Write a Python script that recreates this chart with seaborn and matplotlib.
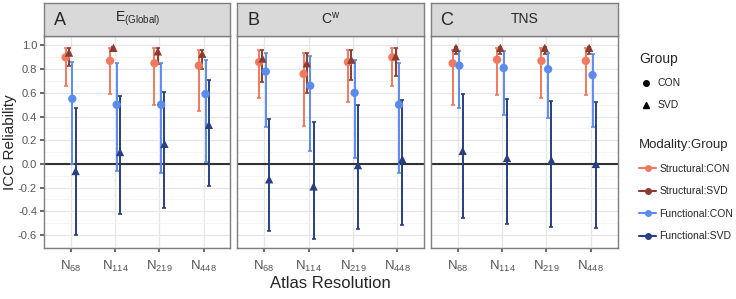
import numpy as np
import pandas as pd
import seaborn as sns
from matplotlib import pyplot as plt
import matplotlib.lines as mlines
from matplotlib.ticker import MultipleLocator

measures = ["A", "B", "C"]
measure_titles = [r"E$_{\mathregular{(Global)}}$", r"C$^{\mathregular{w}}$", "TNS"]
atlases = [r"N$_{\mathregular{68}}$", r"N$_{\mathregular{114}}$", r"N$_{\mathregular{219}}$", r"N$_{\mathregular{448}}$"]
series = ["Structural:CON", "Structural:SVD", "Functional:CON", "Functional:SVD"]

# ICC estimates and 95% CI, one list per panel (A, B, C) x atlas
str_con_est = [[0.90, 0.87, 0.85, 0.83], [0.86, 0.76, 0.86, 0.90], [0.85, 0.88, 0.87, 0.87]]
str_con_low = [[0.66, 0.59, 0.50, 0.45], [0.56, 0.32, 0.52, 0.66], [0.50, 0.58, 0.56, 0.58]]
str_con_high = [[0.98, 0.98, 0.98, 0.96], [0.96, 0.94, 0.96, 0.98], [0.96, 0.98, 0.98, 0.98]]

str_svd_est = [[0.94, 0.98, 0.95, 0.93], [0.89, 0.85, 0.88, 0.91], [0.98, 0.98, 0.98, 0.98]]
str_svd_low = [[0.83, 0.95, 0.84, 0.80], [0.69, 0.60, 0.71, 0.74], [0.93, 0.93, 0.93, 0.93]]
str_svd_high = [[0.98, 0.99, 0.98, 0.96], [0.96, 0.94, 0.96, 0.98], [0.99, 0.99, 0.99, 0.99]]

fun_con_est = [[0.55, 0.50, 0.50, 0.59], [0.78, 0.66, 0.60, 0.50], [0.83, 0.81, 0.80, 0.75]]
fun_con_low = [[0.00, -0.06, -0.08, 0.02], [0.31, 0.11, 0.05, -0.08], [0.47, 0.41, 0.39, 0.31]]
fun_con_high = [[0.86, 0.85, 0.85, 0.88], [0.94, 0.91, 0.88, 0.85], [0.95, 0.95, 0.94, 0.93]]

fun_svd_est = [[-0.06, 0.10, 0.17, 0.33], [-0.13, -0.19, -0.01, 0.04], [0.11, 0.05, 0.03, 0.00]]
fun_svd_low = [[-0.60, -0.42, -0.37, -0.19], [-0.57, -0.63, -0.55, -0.52], [-0.46, -0.51, -0.53, -0.54]]
fun_svd_high = [[0.47, 0.57, 0.61, 0.71], [0.38, 0.35, 0.50, 0.54], [0.59, 0.55, 0.53, 0.52]]

COLORS = {
    "Structural:CON": "#F0795E",
    "Structural:SVD": "#8C3B31",
    "Functional:CON": "#5B8CEB",
    "Functional:SVD": "#283F80",
}
MARKERS = {"CON": "o", "SVD": "^"}

values = {
    "Structural:CON": (str_con_est, str_con_low, str_con_high),
    "Structural:SVD": (str_svd_est, str_svd_low, str_svd_high),
    "Functional:CON": (fun_con_est, fun_con_low, fun_con_high),
    "Functional:SVD": (fun_svd_est, fun_svd_low, fun_svd_high),
}

rows = []
for s_idx, s in enumerate(series):
    est, low, high = values[s]
    for m_idx, m in enumerate(measures):
        for a_idx in range(len(atlases)):
            rows.append({
                "Measure": m,
                "Series": s,
                "Group": s.split(":")[1],
                "atlas": a_idx,
                "xpos": a_idx + (s_idx - 1.5) * 0.075,
                "est": est[m_idx][a_idx],
                "low": low[m_idx][a_idx],
                "high": high[m_idx][a_idx],
            })
df = pd.DataFrame(rows)

sns.set_theme(style="white")
plt.rcParams["font.family"] = ["Liberation Sans", "DejaVu Sans"]
plt.rcParams["mathtext.fontset"] = "custom"
plt.rcParams["mathtext.rm"] = "Liberation Sans"

W, H = 736, 299
fig = plt.figure(figsize=(W / 100, H / 100), dpi=100)

panel_left = [44, 237.5, 431]
panel_w = 186.5
top, bottom = 36, 248
strip_top = 2.5

for i, m in enumerate(measures):
    ax = fig.add_axes([panel_left[i] / W, 1 - bottom / H, panel_w / W, (bottom - top) / H])
    sub = df[df["Measure"] == m]

    ax.set_xlim(-0.6, 3.6)
    ax.set_ylim(-0.71, 1.08)
    ax.yaxis.set_major_locator(MultipleLocator(0.2))
    ax.yaxis.set_minor_locator(MultipleLocator(0.1))
    ax.grid(True, which="major", color="#E6E6E6", lw=0.9)
    ax.grid(True, which="minor", axis="y", color="#F2F2F2", lw=0.6)
    ax.set_axisbelow(True)
    ax.axhline(0, color="#333333", lw=1.5, zorder=1)

    for s in series:
        d = sub[sub["Series"] == s]
        ax.errorbar(
            d["xpos"], d["est"],
            yerr=[d["est"] - d["low"], d["high"] - d["est"]],
            fmt="none", ecolor=COLORS[s], elinewidth=1.4, capsize=1.5, capthick=1.2, zorder=2,
        )
    sns.scatterplot(
        data=sub, x="xpos", y="est", hue="Series", style="Group",
        palette=COLORS, markers=MARKERS, hue_order=series,
        s=36, linewidth=0, legend=False, ax=ax, zorder=3,
    )

    ax.set_xticks(range(len(atlases)))
    ax.set_xticklabels(atlases, fontsize=9.5, color="#555555")
    ax.tick_params(axis="x", length=3, color="#555555", pad=5, bottom=True)
    ax.set_xlabel("")
    ax.set_ylabel("")
    if i == 0:
        ax.set_yticks(np.round(np.arange(-0.6, 1.01, 0.2), 1))
        ax.set_yticklabels([f"{v:.1f}" for v in np.arange(-0.6, 1.01, 0.2)], fontsize=8, color="#555555")
        ax.tick_params(axis="y", length=3, color="#555555", pad=2, left=True)
    else:
        ax.tick_params(axis="y", labelleft=False, left=False)
    for sp in ax.spines.values():
        sp.set_color("#7F7F7F")
        sp.set_linewidth(1.0)

    # facet strip
    sax = fig.add_axes([panel_left[i] / W, 1 - (top - 0.5) / H, panel_w / W, (top - 0.5 - strip_top) / H])
    sax.set_facecolor("#D9D9D9")
    sax.set_xticks([])
    sax.set_yticks([])
    for sp in sax.spines.values():
        sp.set_color("#7F7F7F")
        sp.set_linewidth(1.0)
    sax.text(0.085, 0.45, m, fontsize=13, ha="center", va="center", transform=sax.transAxes)
    sax.text(0.5, 0.5, measure_titles[i], fontsize=10, ha="center", va="center", transform=sax.transAxes)

fig.text(10 / W, 1 - 142 / H, "ICC Reliability", rotation=90, fontsize=11, ha="center", va="center")
fig.text(330 / W, 1 - 283 / H, "Atlas Resolution", fontsize=12, ha="center", va="center")

group_handles = [
    mlines.Line2D([], [], color="black", marker=MARKERS[g], ls="none", markersize=4, label=g)
    for g in ["CON", "SVD"]
]
leg1 = fig.legend(
    handles=group_handles, title="Group", loc="upper left",
    bbox_to_anchor=(630 / W, 1 - 43 / H), frameon=False, fontsize=7.5,
    title_fontsize=10, handlelength=1.2, handletextpad=0.5, labelspacing=1.15,
)
leg1._legend_box.align = "left"

mod_handles = [
    mlines.Line2D([], [], color=COLORS[s], marker="o", markersize=4, lw=1.5, label=s)
    for s in series
]
leg2 = fig.legend(
    handles=mod_handles, title="Modality:Group", loc="upper left",
    bbox_to_anchor=(630 / W, 1 - 130 / H), frameon=False, fontsize=7.5,
    title_fontsize=9.5, handlelength=1.6, handletextpad=0.3, labelspacing=1.2,
)
leg2._legend_box.align = "left"

fig.savefig("out.png", dpi=100)
